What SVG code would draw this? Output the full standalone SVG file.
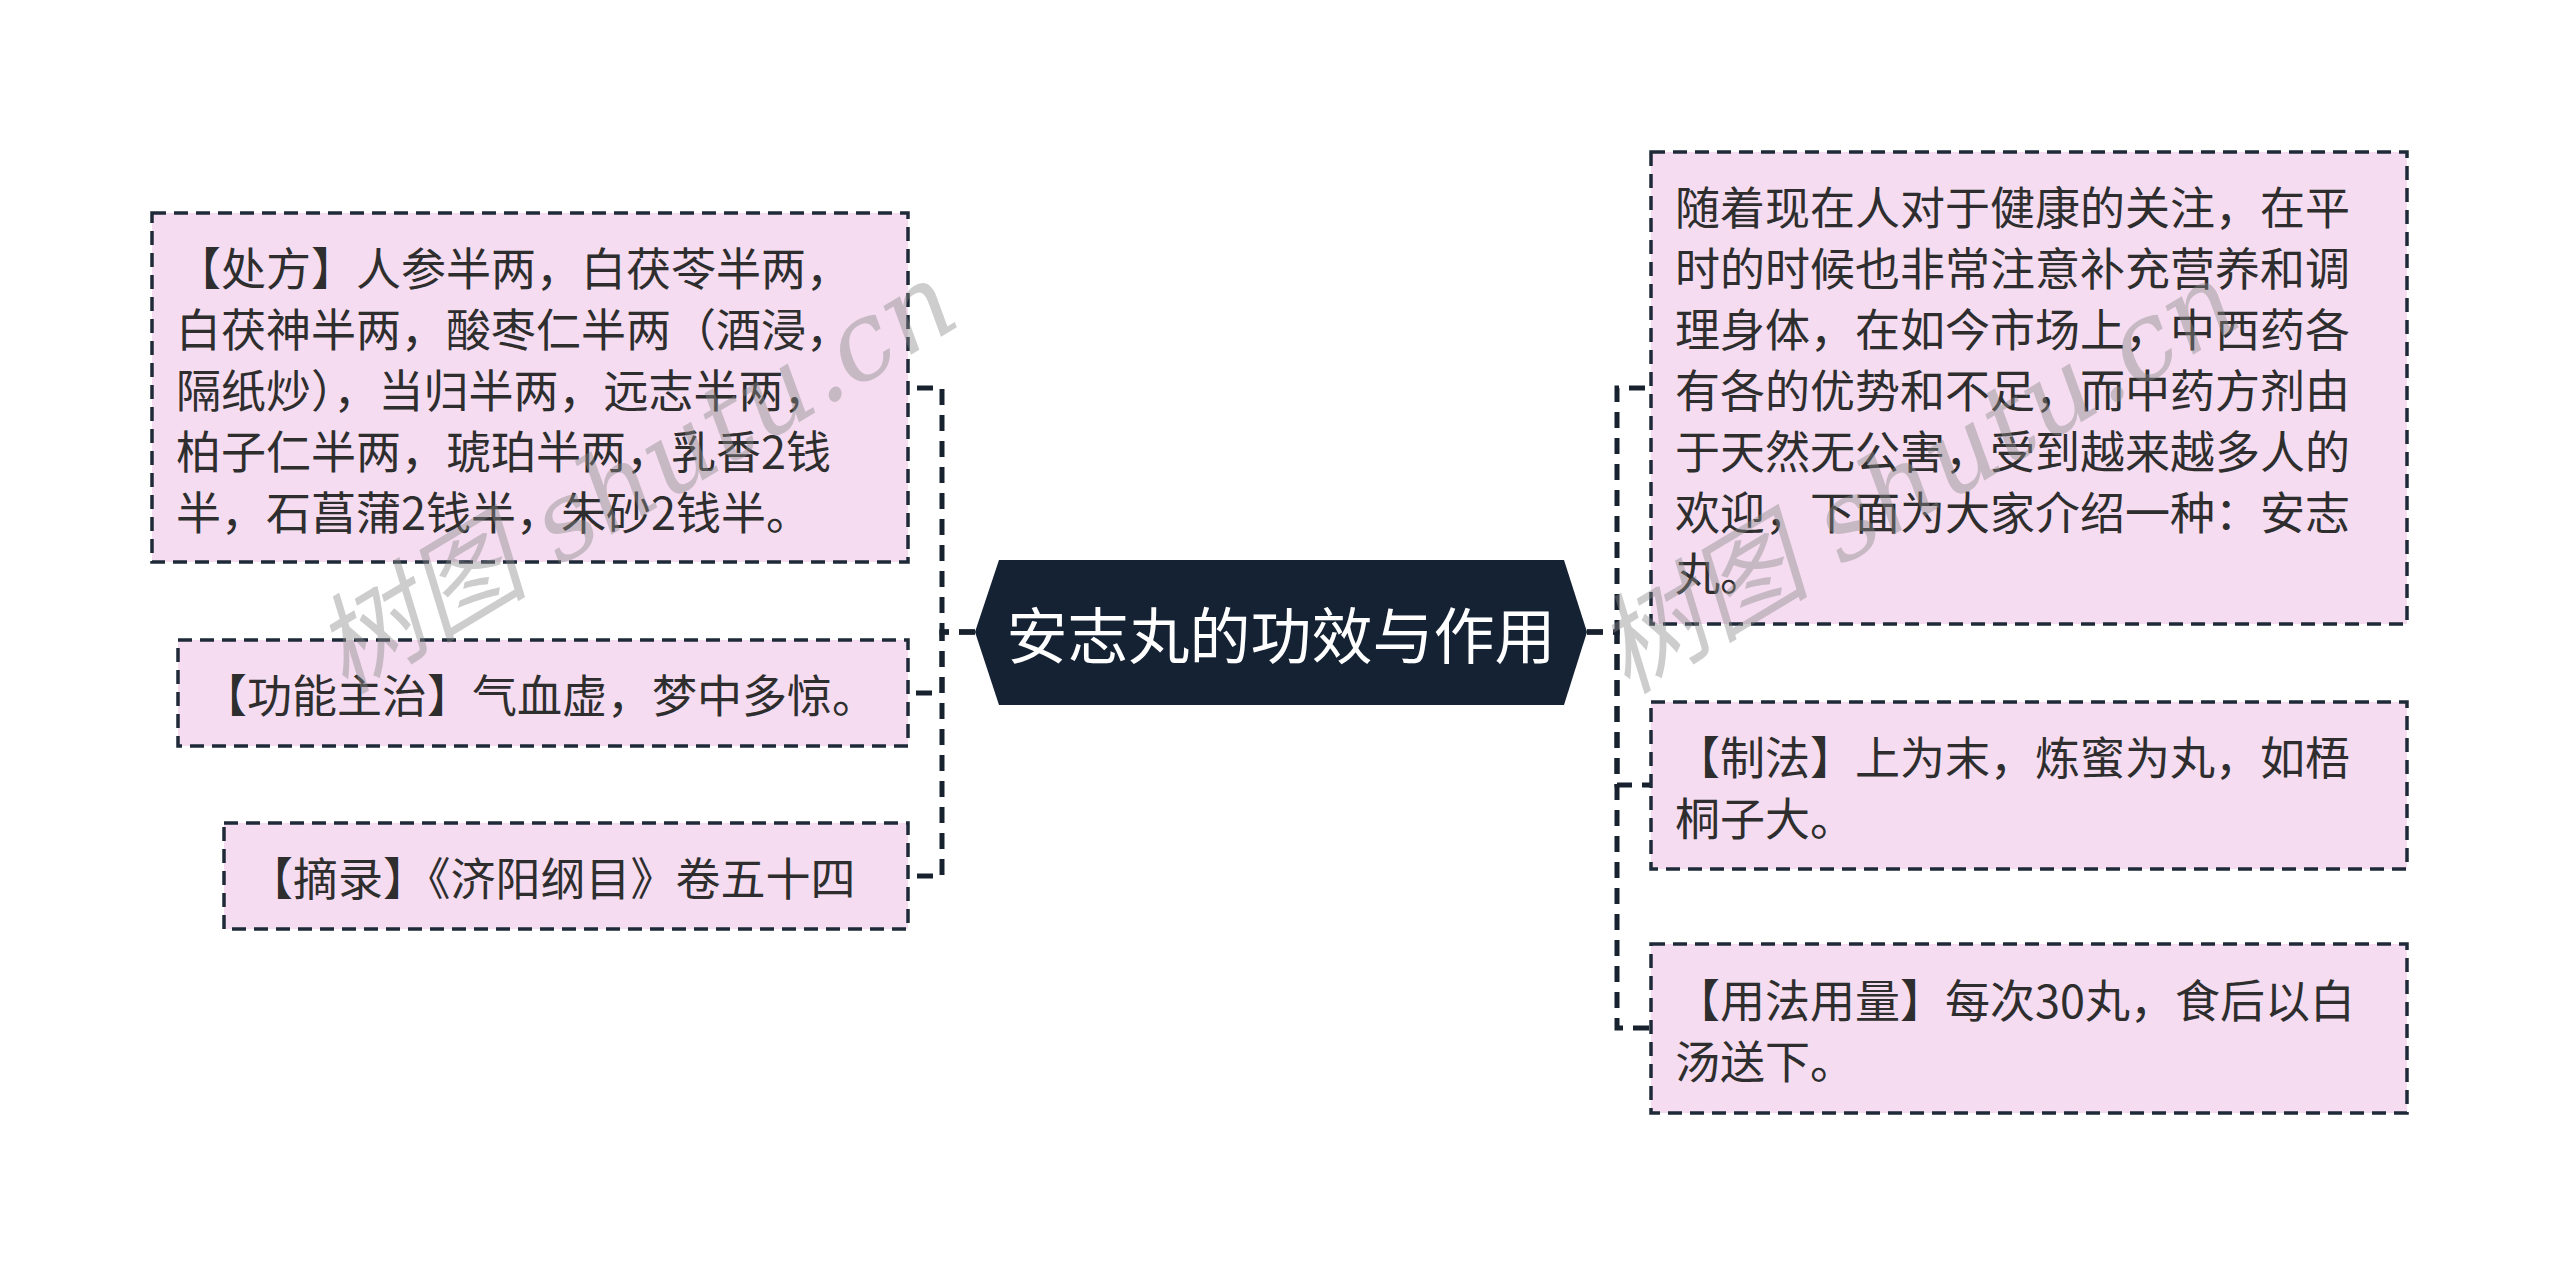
<svg xmlns="http://www.w3.org/2000/svg" width="2560" height="1265" viewBox="0 0 2560 1265">
<style>
.box{fill:#f5dcf0;stroke:#1e2a38;stroke-width:3.5;stroke-dasharray:14 8}
.t{font-family:"Noto Sans CJK SC","Noto Sans",sans-serif;font-size:45px;fill:#2e2e2e;dominant-baseline:central}
.c{fill:none;stroke:#18222f;stroke-width:5;stroke-dasharray:16 10}
.wm{font-family:"DejaVu Serif","Liberation Serif","Noto Sans CJK SC",serif;font-style:italic;font-size:108px;fill:#8a8a8a;opacity:0.42}
</style>
<rect width="2560" height="1265" fill="#fff"/>
<g id="connectors">
<path class="c" d="M975 632 H942 V388 H908"/>
<path class="c" d="M975 632 H942 V693 H908"/>
<path class="c" d="M975 632 H942 V876 H908"/>
<path class="c" d="M1587 632 H1617 V388 H1651"/>
<path class="c" d="M1587 632 H1617 V785 H1651"/>
<path class="c" d="M1587 632 H1617 V1028 H1651"/>
</g>
<g id="center">
<polygon points="975,632 999,560 1564,560 1587,632 1564,705 999,705" fill="#152234"/>
<text x="1281" y="632" text-anchor="middle" style="font-family:'Noto Sans CJK SC',sans-serif;font-size:61px;fill:#fff;dominant-baseline:central">安志丸的功效与作用</text>
</g>
<g id="node-chufang">
<rect class="box" x="152" y="213" width="756" height="349"/>
<text class="t"><tspan x="176" y="266">【处方】人参半两，白茯苓半两，</tspan><tspan x="176" y="327">白茯神半两，酸枣仁半两（酒浸，</tspan><tspan x="176" y="388">隔纸炒），当归半两，远志半两，</tspan><tspan x="176" y="449">柏子仁半两，琥珀半两，乳香2钱</tspan><tspan x="176" y="510">半，石菖蒲2钱半，朱砂2钱半。</tspan></text>
</g>
<g id="node-gongneng">
<rect class="box" x="178" y="640" width="730" height="106"/>
<text class="t" x="202" y="693">【功能主治】气血虚，梦中多惊。</text>
</g>
<g id="node-zhailu">
<rect class="box" x="224" y="823" width="684" height="106"/>
<text class="t" x="248" y="876">【摘录】《济阳纲目》卷五十四</text>
</g>
<g id="node-intro">
<rect class="box" x="1651" y="152" width="756" height="472"/>
<text class="t"><tspan x="1675" y="205">随着现在人对于健康的关注，在平</tspan><tspan x="1675" y="266">时的时候也非常注意补充营养和调</tspan><tspan x="1675" y="327">理身体，在如今市场上，中西药各</tspan><tspan x="1675" y="388">有各的优势和不足，而中药方剂由</tspan><tspan x="1675" y="449">于天然无公害，受到越来越多人的</tspan><tspan x="1675" y="510">欢迎，下面为大家介绍一种：安志</tspan><tspan x="1675" y="571">丸。</tspan></text>
</g>
<g id="node-zhifa">
<rect class="box" x="1651" y="702" width="756" height="167"/>
<text class="t"><tspan x="1675" y="755">【制法】上为末，炼蜜为丸，如梧</tspan><tspan x="1675" y="816">桐子大。</tspan></text>
</g>
<g id="node-yongfa">
<rect class="box" x="1651" y="944" width="756" height="169"/>
<text class="t"><tspan x="1675" y="998">【用法用量】每次30丸，食后以白</tspan><tspan x="1675" y="1059">汤送下。</tspan></text>
</g>
<g id="watermarks">
<text class="wm" x="345" y="695" transform="rotate(-31 345 695)">树图 shutu.cn</text>
<text class="wm" x="1627" y="695" transform="rotate(-31 1627 695)">树图 shutu.cn</text>
</g>
</svg>
